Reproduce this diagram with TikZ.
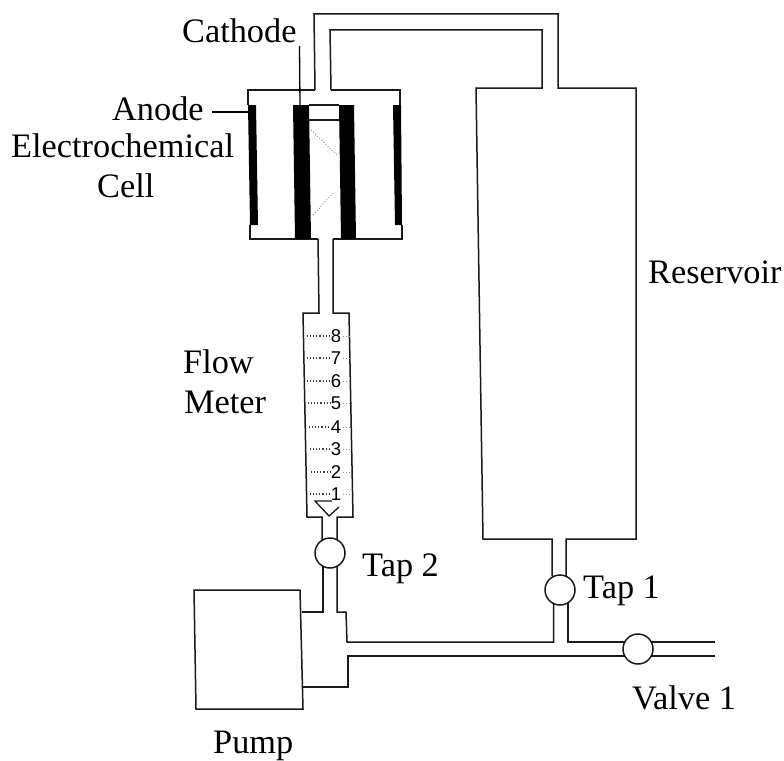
\documentclass[tikz,border=0pt]{standalone}
\usepackage{fontspec}
\setmainfont{Liberation Serif}
\newfontfamily\digitfont{Liberation Sans}
\tikzset{
  x=1pt,y=-1pt,
  pipe/.style={line width=1.5pt,line join=miter,black!90},
  lab/.style={font=\fontsize{34.3}{36}\selectfont,inner sep=0pt,black,anchor=base west},
  tap/.style={circle,draw=black!90,line width=1.5pt,fill=white,minimum size=30pt,inner sep=0pt},
  digit/.style={font=\digitfont\fontsize{18.5}{19}\selectfont,inner sep=0pt,fill=white},
  tick/.style={line width=1.1pt,dotted,black!75},
  thin dots/.style={line width=.9pt,dotted,black!45},
}
\begin{document}
\begin{tikzpicture}
\useasboundingbox (0,0) rectangle (784,760);
% reservoir and return line to cell
\draw[pipe] (315,90) -- (314,14) -- (558,14) -- (558,88) -- (636,88) -- (636,539) -- (566,539) -- (566,576);
\draw[pipe] (331,90) -- (330,30) -- (542,30) -- (542,88) -- (476,88) -- (483,539) -- (552,539) -- (552,576);
% electrochemical cell
\draw[pipe] (315,90) -- (248,90) -- (248,105);
\draw[pipe] (331,90) -- (400,90) -- (400,105);
\draw[pipe] (250,225) -- (250,239) -- (318,239);
\draw[pipe] (402,225) -- (402,239) -- (333,239);
\fill[black] (248,105) -- (256,105) -- (258,225) -- (250,225) -- cycle;
\fill[black] (393,105) -- (401,105) -- (402,225) -- (395,225) -- cycle;
\fill[black] (293,105) -- (309,105) -- (311,239) -- (295,239) -- cycle;
\fill[black] (339,105) -- (354,105) -- (356,239) -- (341,239) -- cycle;
\draw[pipe] (309,105) -- (339,105) (309,120) -- (339,120);
\draw[thin dots] (311,130) -- (337,155);
\draw[thin dots] (313,215) -- (333,193);
% flow meter
\draw[pipe] (318,239) -- (319,313) -- (303,313) -- (307,517) -- (322,517) -- (322,540);
\draw[pipe] (333,239) -- (333,313) -- (349,313) -- (353,517) -- (337,517) -- (337,540);
\draw[line width=1.3pt,black!90] (332,501) -- (315,501) -- (329,516) -- (339,507);
\foreach \y/\n/\a/\b in {336/8/307/329,358/7/307/330,381/6/307/331,403/5/308/332,427/4/309/331,449/3/310/332,472/2/311/332,494/1/310/331}{
  \draw[tick] (\a,\y) -- (\b,\y);
  \node[digit] (d\n) at (336,\y) {\n};
  \draw[thin dots] (d\n.east) ++(2,0) -- ++(8,0);
}
% lower pipework
\draw[pipe] (323,565) -- (323,612) -- (301.5,612);
\draw[pipe] (337,565) -- (337,612) -- (346,612) -- (347,642) -- (553.5,642) -- (553.5,603);
\draw[pipe] (568,603) -- (568,642) -- (715,642);
\draw[pipe] (715,656) -- (348,656) -- (348,687) -- (302.5,687);
% pump
\draw[pipe] (194,590) -- (300,590) -- (303,709) -- (196,709) -- cycle;
% taps and valve
\node[tap] (tap2) at (330,553) {};
\node[tap] (tap1) at (560,590) {};
\node[tap] (valve) at (638,649) {};
% leaders
\coordinate (anodeEnd) at (248,112);
\coordinate (cathodeEnd) at (300,105);
\node[lab] (cathode) at (182,43) {Cathode};
\node[lab] (anode) at (112,120) {Anode};
\node[lab] (ec) at (11,157) {Electrochemical};
\node[lab] (cell) at (97,197) {Cell};
\node[lab] (flow) at (183,373) {Flow};
\node[lab] (meter) at (184,413) {Meter};
\node[lab] (res) at (648,283) {Reservoir};
\node[lab] (t2) at (362,576) {Tap 2};
\node[lab] (t1) at (583,598) {Tap 1};
\node[lab] (v1) at (632,709) {Valve 1};
\node[lab] (pump) at (213,753) {Pump};
\draw[line width=1.3pt] (212,112) -- (anodeEnd);
\draw[line width=1.3pt] (299.5,46) -- (cathodeEnd);
\end{tikzpicture}
\end{document}
